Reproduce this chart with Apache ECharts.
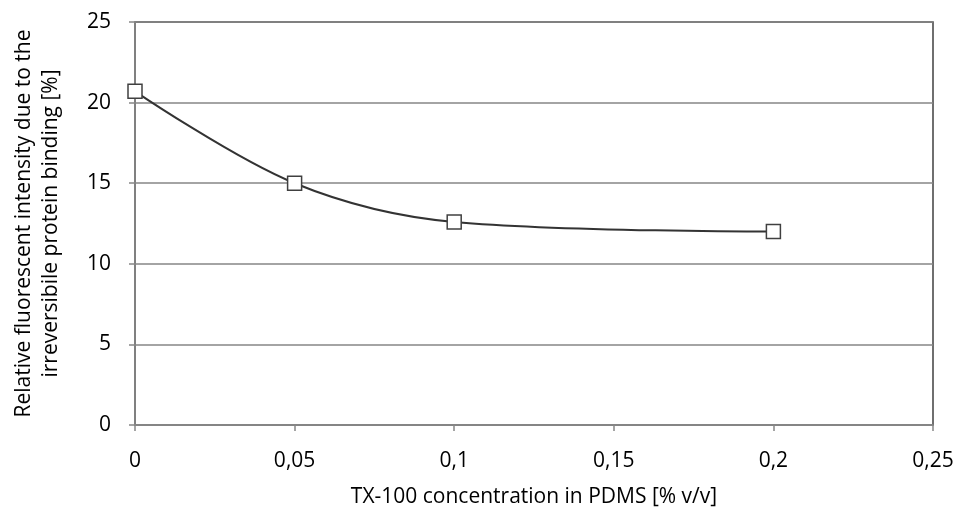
<!DOCTYPE html>
<html><head><meta charset="utf-8">
<script src="https://cdn.jsdelivr.net/npm/echarts@6/dist/echarts.min.js"></script>
<style>html,body{margin:0;padding:0;background:#fff}#c{width:959px;height:513px}</style>
</head><body><div id="c"></div>
<script>
const concentrations = [0, 0.05, 0.1, 0.2];
const intensity = [20.7, 15.0, 12.6, 12.0];
const xTicks = [0, 0.05, 0.1, 0.15, 0.2, 0.25];
const yTicks = [0, 5, 10, 15, 20, 25];

const font = '"Open Sans", "Noto Sans", sans-serif';
const chart = echarts.init(document.getElementById('c'), null, {renderer: 'canvas'});
chart.setOption({
  animation: false,
  backgroundColor: '#fff',
  grid: {left: 135, right: 26, top: 22, bottom: 88, show: true, borderColor: '#404040', borderWidth: 1.5, backgroundColor: 'transparent'},
  xAxis: {
    type: 'value', min: 0, max: 0.25, interval: 0.05,
    name: 'TX-100 concentration in PDMS [% v/v]', nameLocation: 'middle', nameGap: 62,
    nameTextStyle: {fontFamily: font, fontSize: 21, color: '#000'},
    axisLine: {show: true, lineStyle: {color: '#868686', width: 1.5}},
    axisTick: {show: true, length: 6, lineStyle: {color: '#868686', width: 1.5}},
    splitLine: {show: false},
    axisLabel: {fontFamily: font, fontSize: 21, color: '#000', margin: 26,
      formatter: v => String(+v.toFixed(2)).replace('.', ',')}
  },
  yAxis: {
    type: 'value', min: 0, max: 25, interval: 5,
    name: 'Relative fluorescent intensity due to the\nirreversibile protein binding [%]', nameLocation: 'middle', nameGap: 70,
    nameTextStyle: {fontFamily: font, fontSize: 21, color: '#000', lineHeight: 27},
    axisLine: {show: true, lineStyle: {color: '#868686', width: 1.5}},
    axisTick: {show: true, length: 6, lineStyle: {color: '#868686', width: 1.5}},
    splitLine: {show: true, lineStyle: {color: '#868686', width: 1.5}},
    axisLabel: {fontFamily: font, fontSize: 21, color: '#000', margin: 24}
  },
  series: [{
    type: 'line',
    data: concentrations.map((x, i) => [x, intensity[i]]),
    smooth: 0.35,
    symbol: 'rect', symbolSize: 14,
    lineStyle: {color: '#333', width: 2},
    itemStyle: {color: '#fff', borderColor: '#404040', borderWidth: 1.5}
  }]
});
</script></body></html>
